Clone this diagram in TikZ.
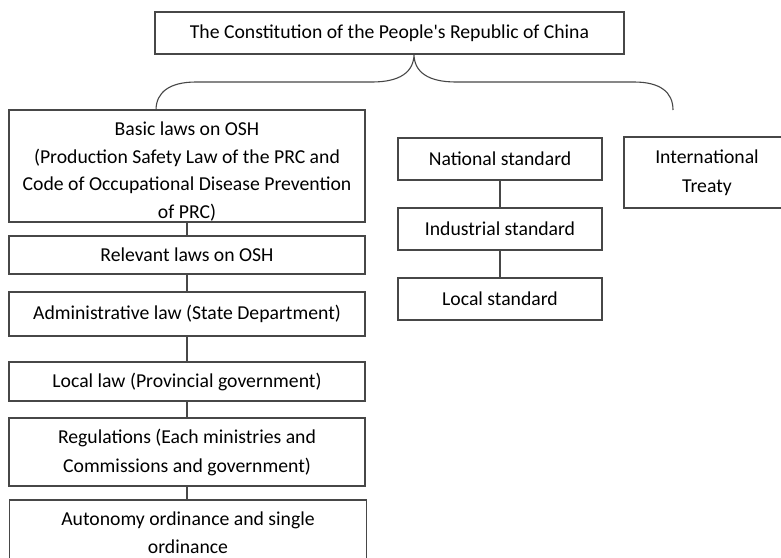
\documentclass[tikz,border=0pt]{standalone}
\usepackage{fontspec}
\setmainfont{Carlito}[Ligatures=TeXOff]
\begin{document}
\begin{tikzpicture}[x=1pt,y=-1pt,
  box/.style={draw=black!72, line width=1.1pt, rectangle, inner sep=0pt, align=center,
    font=\fontsize{19.7}{29}\selectfont},
  txt/.style={inner sep=0pt, align=center, font=\fontsize{19.7}{27.5}\selectfont},
  link/.style={draw=black!72, line width=1.1pt}]
\useasboundingbox (0,0) rectangle (781,557);
\clip (0,0) rectangle (781,557);
\fill[white] (0,0) rectangle (781,557);

% top
\node[box, minimum width=469pt, minimum height=42pt] (top) at (389.5,33)
  {The Constitution of the People's Republic of China};

% left column
\node[box, minimum width=356pt, minimum height=112pt] (basic) at (187,166) {};
\node[txt] (basictext) at (187,171.5) {Basic laws on OSH\\(Production Safety Law of the PRC and\\Code of Occupational Disease Prevention\\of PRC)};
\node[box, minimum width=356pt, minimum height=38pt] (relevant) at (187,255) {Relevant laws on OSH};
\node[box, minimum width=356pt, minimum height=44pt] (admin) at (187,314) {Administrative law (State Department)};
\node[box, minimum width=356pt, minimum height=39pt] (local) at (187,381.5) {Local law (Provincial government)};
\node[box, minimum width=356pt, minimum height=68pt] (regs) at (187,452) {Regulations (Each ministries and\\Commissions and government)};
\node[box, minimum width=357pt, minimum height=74pt] (auto) at (188,537) {};
\node[txt, font=\fontsize{19.7}{28}\selectfont] (autotext) at (188,533) {Autonomy ordinance and single\\ordinance};

% middle column
\node[box, minimum width=204pt, minimum height=42pt] (national) at (500,159) {National standard};
\node[box, minimum width=204pt, minimum height=42pt] (industrial) at (500,229) {Industrial standard};
\node[box, minimum width=204pt, minimum height=42pt] (localstd) at (500,299) {Local standard};

% right
\node[box, minimum width=166pt, minimum height=71pt] (intl) at (707,172.5) {International\\Treaty};

% brace
\coordinate (cusp) at (414,54);
\coordinate (bl) at (156,110);
\coordinate (br) at (673,110);
\draw[link] (bl) .. controls (156,92) and (170,82) .. (196,82) -- (372,82)
  .. controls (400,82) and (414,72) .. (cusp)
  .. controls (414,72) and (428,82) .. (456,82) -- (634,82)
  .. controls (660,82) and (673,92) .. (br);

% connectors
\draw[link] (basic) -- (relevant);
\draw[link] (relevant) -- (admin);
\draw[link] (admin) -- (local);
\draw[link] (local) -- (regs);
\draw[link] (regs) -- (auto.north -| regs.south);
\draw[link] (national) -- (industrial);
\draw[link] (industrial) -- (localstd);
\end{tikzpicture}
\end{document}
